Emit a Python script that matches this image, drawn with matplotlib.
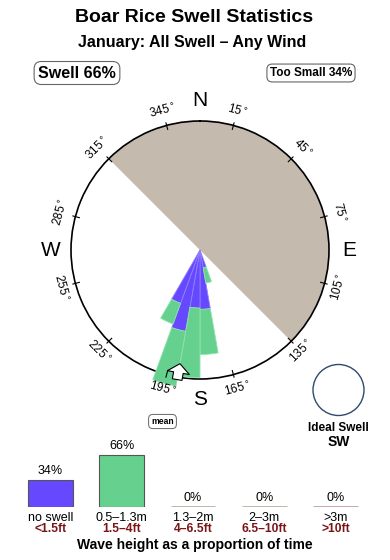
import numpy as np
import matplotlib
matplotlib.use("Agg")
import matplotlib.pyplot as plt
from matplotlib.patches import Circle

plt.rcParams['font.family'] = ['Liberation Sans', 'DejaVu Sans']

# ---------------- data ----------------
title = "Boar Rice Swell Statistics"
subtitle = "January: All Swell \u2013 Any Wind"
swell_pct = 66
too_small_pct = 34

dir_centers = [165, 175, 185, 195, 205]     # degrees (compass)
dir_width = 10
small_part = [14, 46, 45, 64, 44]            # blue segment (radial %)
swell_part = [12, 35, 54, 43, 17]            # green segment stacked on blue

shadow_center = 45                           # shadowed (land) sector
shadow_width = 180
mean_dir = 190
ideal_dir = "SW"

deg_labels = [15, 45, 75, 105, 135, 165, 195, 225, 255, 285, 315, 345]
cardinals = ["N", "E", "S", "W"]
cardinal_deg = [0, 90, 180, 270]

bins_m = ["no swell", "0.5\u20131.3m", "1.3\u20132m", "2\u20133m", ">3m"]
bins_ft = ["<1.5ft", "1.5\u20134ft", "4\u20136.5ft", "6.5\u201310ft", ">10ft"]
bin_pct = [34, 66, 0, 0, 0]
bin_colors = ["#6648ff", "#66d18e", "#a9b8a2", "#b3b3a3", "#c3a3a3"]

BLUE = "#6648ff"
GREEN = "#66d18e"
SHADOW = "#c4baae"
FTRED = "#7b1515"

W, H = 390, 560
fig = plt.figure(figsize=(W / 100, H / 100), dpi=100)
fig.patch.set_facecolor("white")

def fx(x):
    return x / W

def fy(y):
    return 1 - y / H

# ---------------- titles ----------------
fig.text(fx(194), fy(17), title, ha="center", va="center", fontsize=14, fontweight="bold")
fig.text(fx(192.5), fy(43), subtitle, ha="center", va="center", fontsize=11.5, fontweight="bold")

box = dict(boxstyle="round,pad=0.25,rounding_size=0.45", fc="white", ec="#666666", lw=0.8)
fig.text(fx(77), fy(73), f"Swell {swell_pct}%", ha="center", va="center",
         fontsize=11.5, fontweight="bold", bbox=box)
fig.text(fx(311), fy(73), f"Too Small {too_small_pct}%", ha="center", va="center",
         fontsize=8.5, fontweight="bold", bbox=box)

# ---------------- rose ----------------
cx, cy, R = 200, 250, 129
ax = fig.add_axes([fx(cx - R), fy(cy + R), 2 * R / W, 2 * R / H], projection="polar")
ax.set_theta_zero_location("N")
ax.set_theta_direction(-1)
ax.set_ylim(0, 100)
ax.set_xticks([])
ax.set_yticks([])
ax.grid(False)
ax.spines["polar"].set_linewidth(1.2)
ax.set_facecolor("white")

ax.bar(np.radians(shadow_center), 100, width=np.radians(shadow_width), bottom=0,
       color=SHADOW, linewidth=0, zorder=1)

th = np.radians(dir_centers)
ax.bar(th, small_part, width=np.radians(dir_width), bottom=0, color=BLUE,
       edgecolor="#8e80ff", linewidth=0.6, zorder=3, clip_on=False)
ax.bar(th, swell_part, width=np.radians(dir_width), bottom=small_part, color=GREEN,
       edgecolor="#90e2ad", linewidth=0.6, zorder=3, clip_on=False)

for d in deg_labels:
    r = np.radians(d)
    ax.plot([r, r], [96.8, 102], color="black", lw=0.8, zorder=4, clip_on=False)
    rot = -d if (d < 90 or d > 270) else 180 - d
    ax.text(r, 111.7, f"{d}$^\\circ$", rotation=rot, rotation_mode="anchor",
            ha="center", va="center", fontsize=8.5, clip_on=False)

for lab, d in zip(cardinals, cardinal_deg):
    ax.text(np.radians(d), 116, lab, ha="center", va="center", fontsize=15, clip_on=False)

ax.annotate("", xy=(np.radians(mean_dir), 89.5), xytext=(np.radians(mean_dir), 102),
            arrowprops=dict(arrowstyle="simple,head_width=1.6,head_length=0.65,tail_width=0.7",
                            mutation_scale=10, fc="white", ec="black", lw=0.8,
                            shrinkA=0, shrinkB=0),
            annotation_clip=False, zorder=6)

fig.text(fx(162.5), fy(421.5), "mean", ha="center", va="center", fontsize=6.2,
         fontweight="bold",
         bbox=dict(boxstyle="round,pad=0.3,rounding_size=0.5", fc="white", ec="#666666", lw=0.7))

# ---------------- ideal swell ----------------
fig.add_artist(Circle((338.5 / 100, (H - 390) / 100), 0.255, transform=fig.dpi_scale_trans,
                      fc="white", ec="#2e4a6b", lw=1.0))
fig.text(fx(338.5), fy(428), "Ideal Swell", ha="center", va="center", fontsize=8.5, fontweight="bold")
fig.text(fx(338.5), fy(442), ideal_dir, ha="center", va="center", fontsize=10, fontweight="bold")

# ---------------- wave-height bars ----------------
x0, dx = 50.5, 71.25
ax2 = fig.add_axes([0, fy(507), 1, 77 / H])
ax2.set_xlim(-x0 / dx, (W - x0) / dx)
ax2.set_ylim(0, 77 / 0.79)
ax2.axis("off")
bw = 0.63
for i, (p, c) in enumerate(zip(bin_pct, bin_colors)):
    if p > 0:
        ax2.bar(i, p, width=bw, color=c, edgecolor="#555555", linewidth=0.8)
    else:
        ax2.hlines(0, i - bw / 2, i + bw / 2, color=c, lw=2)
    ax2.annotate(f"{p}%", (i, p), xytext=(0, 6.5), textcoords="offset points",
                 ha="center", va="center", fontsize=9, annotation_clip=False)
    ax2.annotate(bins_m[i], (i, 0), xytext=(0, -8), textcoords="offset points",
                 ha="center", va="center", fontsize=9, annotation_clip=False)
    ax2.annotate(bins_ft[i], (i, 0), xytext=(0, -16), textcoords="offset points",
                 ha="center", va="center", fontsize=8.7, fontweight="bold",
                 color=FTRED, annotation_clip=False)

fig.text(fx(195), fy(545), "Wave height as a proportion of time", ha="center", va="center",
         fontsize=10, fontweight="bold")

fig.savefig("out.png", dpi=100)
